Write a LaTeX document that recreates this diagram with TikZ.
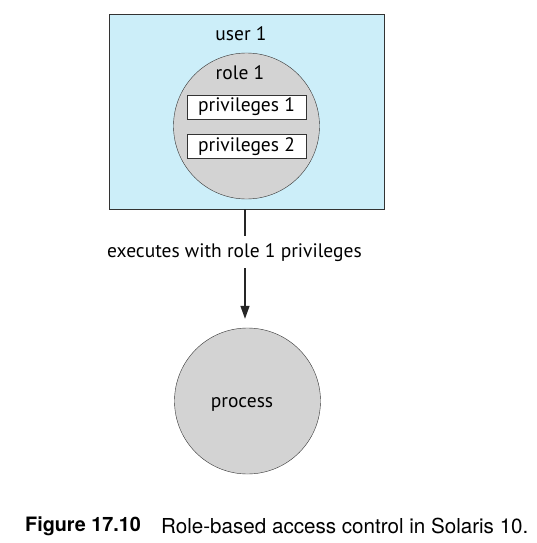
\documentclass[tikz,border=0pt]{standalone}
\usepackage{fontspec}
\setmainfont{PT Sans}
\newfontfamily\capfont{TeX Gyre Heros}
\usetikzlibrary{arrows.meta}
\definecolor{userblue}{HTML}{CCEEF9}
\definecolor{rolegray}{HTML}{D3D3D3}
\definecolor{edgegray}{HTML}{333333}
\begin{document}
\begin{tikzpicture}[x=1pt,y=-1pt,
  every node/.style={font=\fontsize{19.5}{22}\selectfont},
  userbox/.style={draw=edgegray, fill=userblue, minimum width=275pt, minimum height=195pt, inner sep=0pt},
  rolecircle/.style={draw=edgegray, fill=rolegray, circle, minimum size=146pt, inner sep=0pt},
  privbox/.style={draw=edgegray, fill=white, minimum width=119pt, minimum height=24pt, inner sep=0pt},
  conn/.style={line width=1.4pt, color=black!85}]
\useasboundingbox (0,0) rectangle (537,543);
\node[userbox] (user) at (246.5,111.5) {};
\node[] (userlabel) at (241,34) {user 1};
\node[rolecircle] (role) at (246.5,126) {};
\node[] (rolelabel) at (240,73) {role 1};
\node[privbox] (privA) at (246.5,107) {};
\node[privbox] (privB) at (246.5,146.5) {};
\node[] at (privA) {privileges 1}; \node[] at (privB) {privileges 2};
\node[] (execlabel) at (234.5,253) {executes with role 1 privileges};
\node[rolecircle] (process) at (247.5,401) {};
\node[] (proclabel) at (242,404) {process};
\coordinate (lineend) at (245,236);
\coordinate (arrowstart) at (245,268);
\draw[conn] (user.south -| lineend) -- (lineend);
\draw[conn,-{Triangle[length=13pt,width=9pt]}] (arrowstart) -- (arrowstart |- process.north) [shorten >=9pt];
\node[anchor=west, inner sep=0pt, font=\capfont\fontsize{19.8}{22}\selectfont\bfseries] (figno) at (25,526) {Figure 17.10};
\node[anchor=west, inner sep=0pt, font=\capfont\fontsize{20.6}{23}\selectfont] (figtext) at (161,526) {Role-based access control in Solaris 10.};
\end{tikzpicture}
\end{document}
